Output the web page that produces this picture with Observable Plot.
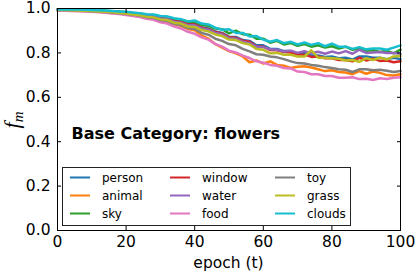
<!DOCTYPE html>
<html><head><meta charset="utf-8">
<script src="https://cdn.jsdelivr.net/npm/d3@7"></script>
<script src="https://cdn.jsdelivr.net/npm/@observablehq/plot@0.6"></script>
<style>body{margin:0;background:#fff;} svg{display:block;}</style>
</head><body><div id="chart"></div>
<script>
const epochs = [0,2,4,6,8,10,12,14,16,18,20,22,24,26,28,30,32,34,36,38,40,42,44,46,48,50,52,54,56,58,60,62,64,66,68,70,72,74,76,78,80,82,84,86,88,90,92,94,96,98,100];

const person = [.995,.995,.994,.993,.992,.991,.990,.988,.986,.984,.981,
  .978,.975,.969,.967,.960,.956,.946,.941,.930,.931,
  .916,.910,.896,.890,.872,.872,.858,.854,.834,.834,
  .818,.818,.808,.808,.798,.800,.788,.788,.782,.784,
  .776,.778,.770,.784,.784,.778,.778,.772,.778,.772];
const animal = [.992,.992,.991,.990,.989,.987,.985,.983,.980,.977,.974,
  .970,.966,.959,.955,.945,.940,.928,.922,.908,.902,
  .878,.864,.840,.824,.808,.798,.784,.758,.766,.752,
  .762,.746,.742,.732,.738,.740,.734,.726,.718,.722,
  .714,.712,.704,.718,.706,.716,.710,.700,.698,.704];
const sky = [.995,.995,.994,.994,.993,.992,.991,.990,.988,.986,.983,
  .980,.978,.972,.971,.964,.962,.953,.949,.940,.941,
  .926,.922,.910,.907,.888,.900,.884,.882,.864,.864,
  .846,.854,.838,.844,.832,.840,.828,.834,.824,.830,
  .820,.828,.814,.820,.810,.812,.804,.810,.798,.815];
const windowS = [.994,.994,.993,.992,.991,.990,.989,.987,.985,.983,.980,
  .977,.974,.968,.966,.958,.954,.943,.940,.928,.928,
  .913,.907,.894,.888,.870,.868,.855,.850,.830,.828,
  .813,.812,.804,.802,.793,.792,.782,.784,.776,.776,
  .768,.768,.762,.778,.766,.774,.764,.766,.758,.762];
const water = [.994,.994,.993,.992,.991,.990,.988,.986,.984,.982,.979,
  .976,.973,.966,.964,.955,.952,.940,.936,.924,.924,
  .910,.904,.890,.884,.866,.864,.850,.844,.828,.826,
  .816,.814,.806,.810,.800,.808,.798,.805,.796,.806,
  .798,.808,.796,.814,.800,.802,.804,.800,.800,.796];
const food = [.990,.990,.989,.988,.987,.985,.983,.981,.978,.975,.971,
  .966,.962,.954,.949,.938,.932,.919,.910,.895,.886,
  .870,.860,.840,.828,.810,.802,.788,.777,.762,.756,
  .746,.742,.732,.730,.716,.714,.704,.704,.696,.696,
  .688,.688,.690,.682,.684,.678,.686,.682,.688,.690];
const toy = [.993,.993,.992,.991,.990,.988,.986,.984,.982,.979,.976,
  .972,.968,.961,.958,.948,.944,.931,.926,.912,.908,
  .890,.882,.864,.854,.840,.834,.818,.807,.794,.792,
  .784,.780,.772,.762,.754,.752,.746,.742,.736,.732,
  .726,.724,.714,.726,.726,.722,.724,.720,.714,.718];
const grass = [.993,.993,.992,.991,.990,.989,.987,.985,.983,.980,.977,
  .973,.970,.963,.960,.951,.948,.936,.932,.919,.917,
  .903,.897,.883,.876,.860,.858,.844,.838,.818,.814,
  .798,.800,.792,.792,.784,.784,.812,.778,.778,.776,
  .774,.766,.768,.760,.776,.768,.778,.770,.784,.786];
const clouds = [.996,.996,.995,.995,.994,.993,.992,.991,.989,.987,.985,
  .982,.979,.974,.973,.966,.964,.956,.952,.942,.946,
  .932,.928,.914,.904,.906,.890,.890,.874,.876,.860,
  .850,.858,.844,.850,.838,.847,.836,.844,.830,.842,
  .828,.828,.818,.826,.816,.820,.820,.814,.824,.834];

const seriesNames = ["person","animal","sky","window","water","food","toy","grass","clouds"];
const seriesValues = [person, animal, sky, windowS, water, food, toy, grass, clouds];
const seriesColors = ["#1f77b4","#ff7f0e","#2ca02c","#d62728","#9467bd","#e377c2","#7f7f7f","#bcbd22","#17becf"];
const xTicks = [0,20,40,60,80,100];
const yTicks = [0,0.2,0.4,0.6,0.8,1.0];
const titleText = "Base Category: flowers";
const xLabel = "epoch (t)";

const rows = seriesNames.flatMap((name, i) =>
  seriesValues[i].map((v, j) => ({series: name, epoch: epochs[j], value: v})));

const chart = Plot.plot({
  width: 415, height: 272,
  marginLeft: 57, marginRight: 15, marginTop: 8, marginBottom: 42,
  style: {fontFamily: "DejaVu Sans", fontSize: "15.5px", color: "#000", background: "#fff"},
  x: {domain: [0, 100]},
  y: {domain: [0, 1]},
  color: {domain: seriesNames, range: seriesColors},
  marks: [
    Plot.lineY(rows, {x: "epoch", y: "value", z: "series", stroke: "series", strokeWidth: 2.5}),
    Plot.frame({stroke: "#000", strokeWidth: 1}),
    Plot.axisX(xTicks, {tickSize: -4, fill: "none", label: null}),
    Plot.axisX(xTicks, {anchor: "top", tickSize: -4, fill: "none", label: null}),
    Plot.axisX(xTicks, {tickSize: 0, tickPadding: 5, label: null}),
    Plot.axisY(yTicks, {tickSize: -4, fill: "none", label: null}),
    Plot.axisY(yTicks, {anchor: "right", tickSize: -4, fill: "none", label: null}),
    Plot.axisY(yTicks, {tickSize: 0, tickPadding: 7, tickFormat: d3.format(".1f"), label: null}),
    Plot.text([titleText], {text: d => d, frameAnchor: "top-left", dx: 14, dy: 125, textAnchor: "start", lineAnchor: "middle", fontWeight: "bold", fontSize: 16})
  ]
});

const svg = d3.select(chart);
svg.append("text").attr("x", 228.5).attr("y", 268).attr("text-anchor", "middle")
  .attr("font-size", 15.5).attr("fill", "#000").text(xLabel);

const yl = svg.append("text").attr("transform", "translate(19,120) rotate(-90)")
  .attr("text-anchor", "middle").attr("fill", "#000")
  .attr("font-family", "Liberation Serif").attr("font-style", "italic");
yl.append("tspan").attr("font-size", 22).text("f");
yl.append("tspan").attr("font-size", 15).attr("dy", 4).text("m");

const lg = svg.append("g").attr("text-anchor", "start");
lg.append("rect").attr("x", 62.5).attr("y", 167.5).attr("width", 288).attr("height", 58)
  .attr("fill", "#fff").attr("stroke", "#222").attr("stroke-width", 1);
const colX = [70, 170, 275], textX = [102, 202, 307], rowY = [177.5, 195.5, 213.5];
seriesNames.forEach((name, i) => {
  const c = Math.floor(i / 3), r = i % 3;
  lg.append("line").attr("x1", colX[c]).attr("x2", colX[c] + 20)
    .attr("y1", rowY[r]).attr("y2", rowY[r])
    .attr("stroke", seriesColors[i]).attr("stroke-width", 2);
  lg.append("text").attr("x", textX[c]).attr("y", rowY[r]).attr("dy", "0.35em")
    .attr("text-anchor", "start")
    .attr("font-size", 12).attr("fill", "#000").text(name);
});

document.getElementById("chart").appendChild(chart);
</script>
</body></html>
